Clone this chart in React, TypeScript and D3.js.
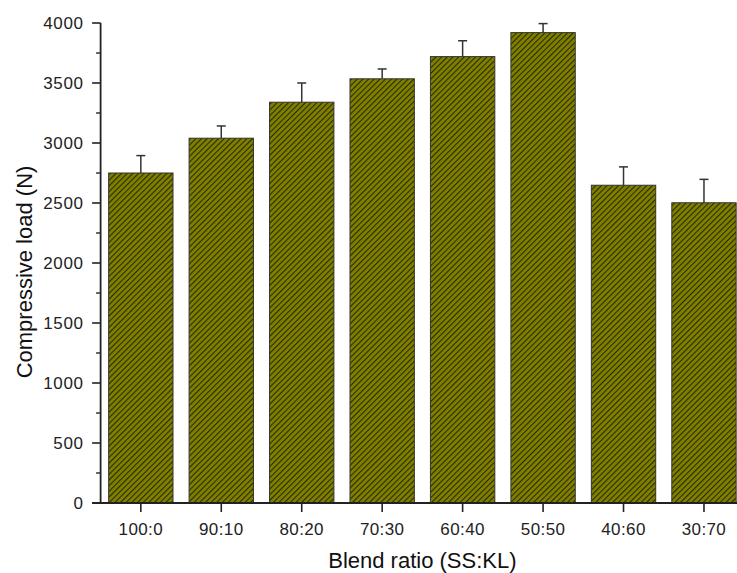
import React from "react";
import * as d3 from "d3";

const categories = ["100:0", "90:10", "80:20", "70:30", "60:40", "50:50", "40:60", "30:70"];
const loadValues = [2750, 3040, 3340, 3535, 3720, 3920, 2648, 2502];
const loadErrors = [145, 102, 160, 82, 132, 75, 153, 195];
const yTicks = [0, 500, 1000, 1500, 2000, 2500, 3000, 3500, 4000];
const yMinorTicks = [250, 750, 1250, 1750, 2250, 2750, 3250, 3750];

const W = 737;
const H = 573;
const left = 100.6;
const step = 80.45;
const top = 23;
const bottom = 503;

export default function App() {
  const x = d3
    .scaleBand<string>()
    .domain(categories)
    .range([left, left + step * categories.length])
    .paddingInner(0.2)
    .paddingOuter(0.1);
  const y = d3.scaleLinear().domain([0, 4000]).range([bottom, top]);
  const bw = x.bandwidth();
  const font = "'Liberation Sans', Arial, sans-serif";
  const stroke = "#222";

  return (
    <svg
      width={W}
      height={H}
      viewBox={`0 0 ${W} ${H}`}
      style={{ position: "absolute", left: 0, top: 0, background: "#fff" }}
    >
      <defs>
        <pattern
          id="hatch"
          patternUnits="userSpaceOnUse"
          width={4}
          height={4}
          patternTransform="rotate(45)"
        >
          <rect width={4} height={4} fill="#808000" />
          <line x1={0} y1={0} x2={0} y2={4} stroke="#2a2a00" strokeWidth={2.2} />
        </pattern>
      </defs>

      {categories.map((c, i) => {
        const x0 = x(c)!;
        const cx = x0 + bw / 2;
        const v = loadValues[i];
        const e = loadErrors[i];
        return (
          <g key={c}>
            <line x1={cx} x2={cx} y1={y(v)} y2={y(v + e)} stroke="#333" strokeWidth={1.5} />
            <line x1={cx - 4.5} x2={cx + 4.5} y1={y(v + e)} y2={y(v + e)} stroke="#333" strokeWidth={1.5} />
            <rect
              x={x0}
              y={y(v)}
              width={bw}
              height={y(0) - y(v)}
              fill="url(#hatch)"
              stroke="#333"
              strokeWidth={1}
            />
          </g>
        );
      })}

      {/* Y axis */}
      <line x1={left} x2={left} y1={top} y2={bottom} stroke={stroke} strokeWidth={1.8} />
      {yTicks.map((t) => (
        <g key={t}>
          <line x1={left - 8.5} x2={left} y1={y(t)} y2={y(t)} stroke={stroke} strokeWidth={1.6} />
          <text
            x={83.5}
            y={y(t)}
            dy="0.35em"
            textAnchor="end"
            fontFamily={font}
            fontSize={17}
            letterSpacing={0.6}
            fill="#222"
          >
            {t}
          </text>
        </g>
      ))}
      {yMinorTicks.map((t) => (
        <line key={t} x1={left - 4.5} x2={left} y1={y(t)} y2={y(t)} stroke={stroke} strokeWidth={1.4} />
      ))}

      {/* X axis */}
      <line x1={left - 8.5} x2={W} y1={bottom} y2={bottom} stroke={stroke} strokeWidth={1.8} />
      {categories.map((c) => {
        const cx = x(c)! + bw / 2;
        return (
          <g key={c}>
            <line x1={cx} x2={cx} y1={bottom} y2={bottom + 9} stroke={stroke} strokeWidth={1.6} />
            <text
              x={cx}
              y={535}
              textAnchor="middle"
              fontFamily={font}
              fontSize={17}
              letterSpacing={0.4}
              fill="#222"
            >
              {c}
            </text>
          </g>
        );
      })}

      <text
        x={left + (step * categories.length) / 2}
        y={568}
        textAnchor="middle"
        fontFamily={font}
        fontSize={22}
        fill="#111"
      >
        Blend ratio (SS:KL)
      </text>
      <text
        transform={`translate(32, 272) rotate(-90)`}
        textAnchor="middle"
        fontFamily={font}
        fontSize={22}
        fill="#111"
      >
        Compressive load (N)
      </text>
    </svg>
  );
}
